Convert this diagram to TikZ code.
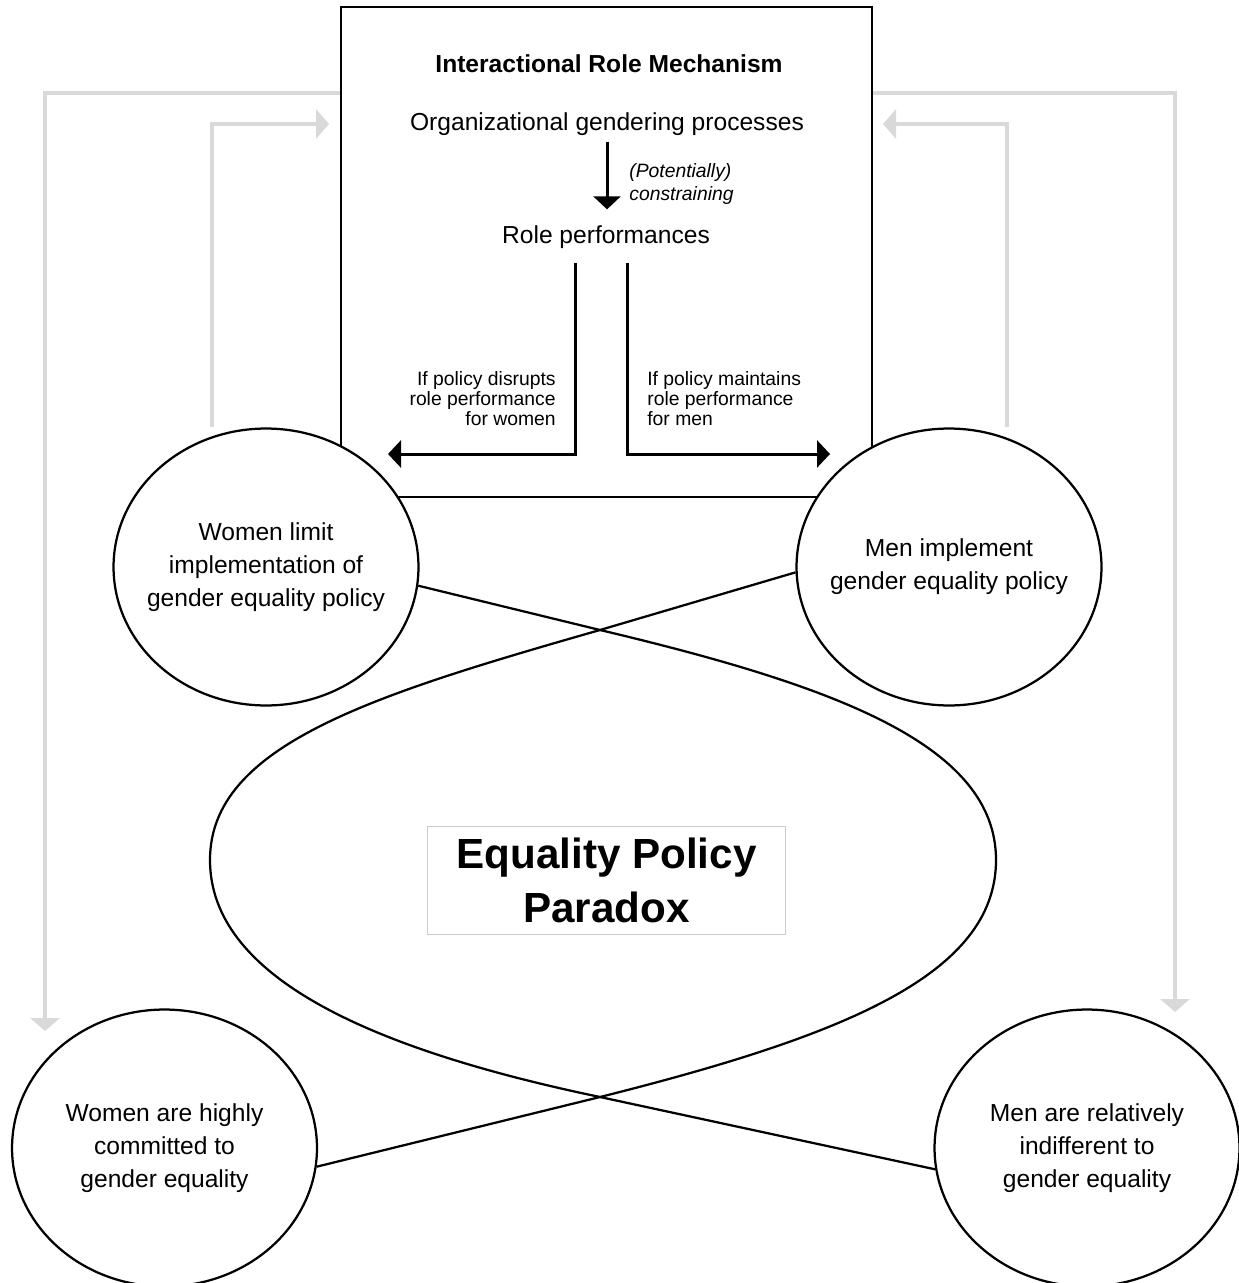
\documentclass[tikz,border=0pt]{standalone}
\usepackage{fontspec}
\setmainfont{Liberation Sans}
\usetikzlibrary{shapes.geometric,arrows.meta}
\tikzset{%
  mechbox/.style     = {rectangle, draw, line width=0.045cm,%
                        minimum width=10.62cm, minimum height=9.8cm, inner sep=0pt},%
  actor/.style       = {ellipse, draw, fill=white, line width=0.045cm,%
                        minimum width=6.1cm, minimum height=5.54cm,%
                        inner sep=-0.4cm, align=center},%
  paradox/.style     = {rectangle, draw=black!20, line width=0.02cm,%
                        minimum width=7.16cm, minimum height=2.18cm, align=center,%
                        font=\fontsize{24}{31}\selectfont\bfseries},%
  cond/.style        = {inner sep=0pt, font=\fontsize{11}{11.4}\selectfont},%
  feedback/.style    = {draw=black!15, line width=0.08cm,%
                        -{Triangle[width=0.58cm,length=0.26cm]}},%
  effect/.style      = {line width=0.06cm, -{Triangle[width=0.54cm,length=0.26cm]}},%
  paradoxline/.style = {line width=0.045cm}%
}

\begin{document}
\begin{tikzpicture}[x=0.02cm,y=-0.02cm,
every node/.style = {font=\fontsize{14}{18.7}\selectfont}]
	\useasboundingbox (0,0) rectangle (1238,1283);
	\node [mechbox] (irm) at (606.5,252) {};
	\node [font=\fontsize{14}{17}\selectfont\bfseries] (title) at (609,64) {Interactional Role Mechanism};
	\node (org) at (607,124) {Organizational gendering processes};
	\node (role) at (606,237) {Role performances};
	\draw [effect, shorten >=0.2cm] (org.south) -- (org.south |- role.north);
	\node [cond, font=\fontsize{11}{13}\selectfont\itshape, align=left, anchor=west] (constr) at (629,184) {(Potentially)\\constraining};
	\coordinate (wtip) at (388,454);
	\coordinate (mtip) at (830,454);
	\draw [effect] ([shift={(-31,8)}]role.south) |- (wtip);
	\draw [effect] ([shift={(21,8)}]role.south) |- (mtip);
	\node [cond, anchor=east, align=right] (disrupt) at (556,399) {If policy disrupts\\role performance\\for women};
	\node [cond, anchor=west, align=left] (maintain) at (647,399) {If policy maintains\\role performance\\for men};
	\node [actor] (wlim) at (266,567) {Women limit\\implementation of\\gender equality policy};
	\node [actor] (mimp) at (949,567) {Men implement\\gender equality policy};
	\node [actor] (wcom) at (164.5,1148) {Women are highly\\committed to\\gender equality};
	\node [actor] (mind) at (1087,1148) {Men are relatively\\indifferent to\\gender equality};
	\coordinate (wcomtip) at (45,1031);
	\coordinate (mindtip) at (1175,1012);
	\coordinate (irmL) at (329,124);
	\coordinate (irmR) at (883,124);
	\draw [feedback] (irm.west |- 0,93) -| (wcomtip);
	\draw [feedback] (irm.east |- 0,93) -| (mindtip);
	\draw [feedback] ([xshift=-1.08cm]wlim.north) |- (irmL);
	\draw [feedback] ([xshift=1.16cm]mimp.north) |- (irmR);
	\node [paradox] (eqp) at (606.5,880.5) {Equality Policy\\Paradox};
	\coordinate (xtop) at (600,630);
	\coordinate (xbot) at (600,1097);
	\coordinate (rgt) at (996,860);
	\coordinate (lft) at (210,860);
	\draw [paradoxline] (wlim.-7.5) -- (xtop) .. controls (836,686) and (996,745) .. (rgt)
		.. controls (996,975) and (843,1036) .. (xbot) -- (wcom.-7.8);
	\draw [paradoxline] (mimp.182.6) -- (xtop) .. controls (373,695) and (210,745) .. (lft)
		.. controls (210,975) and (365,1048) .. (xbot) -- (mind.188);
\end{tikzpicture}
\end{document}
